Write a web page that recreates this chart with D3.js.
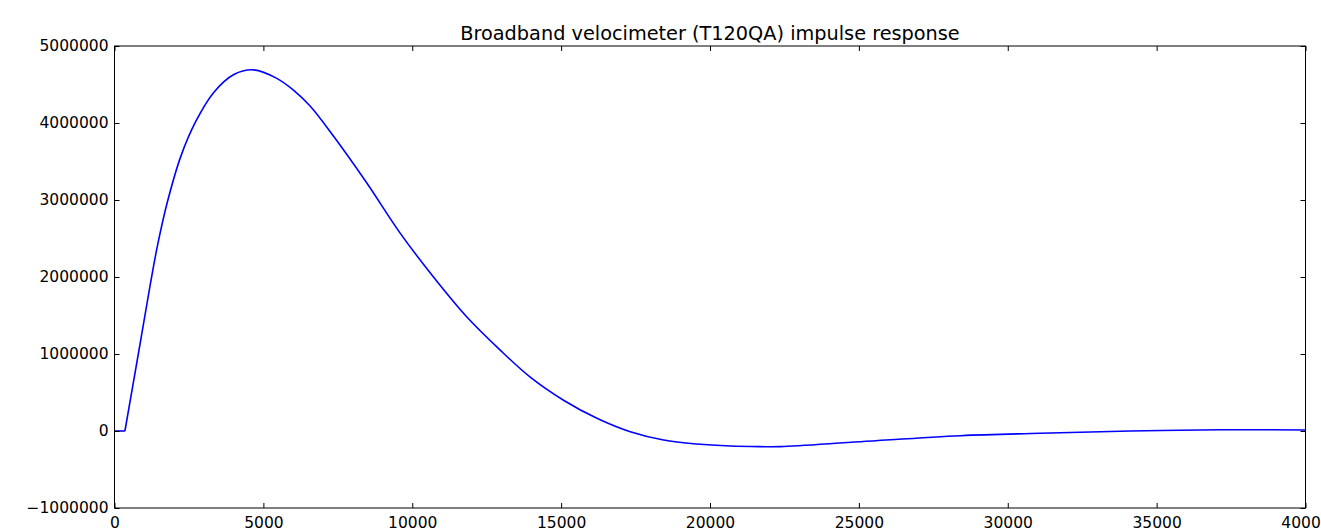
<!DOCTYPE html>
<html>
<head>
<meta charset="utf-8">
<script src="https://cdn.jsdelivr.net/npm/d3@7"></script>
<style>
  body { margin: 0; background: #fff; }
  svg text { font-family: "DejaVu Sans", sans-serif; }
</style>
</head>
<body>
<div id="chart"></div>
<script>
// samples (flat lead-in, then the response)
var leadIndex = [0, 350];
var leadAmplitude = [0, 0];
var sampleIndex = [350, 800, 1200, 1450, 1780, 2230, 2730, 3340, 4010, 4664, 5450, 6000, 6569, 7352, 8474, 9593, 10713, 11835, 12954, 13962, 15081, 16203, 17322, 18441, 19563, 20682, 21690, 22362, 25050, 28410, 31099, 34123, 37147, 40000];
var amplitude = [0, 1000000, 1900000, 2420000, 2980000, 3570000, 4020000, 4400000, 4630000, 4690000, 4580000, 4430000, 4220000, 3830000, 3220000, 2570000, 2000000, 1480000, 1050000, 700000, 400000, 165000, -10000, -117000, -169000, -195000, -203000, -203000, -139000, -61000, -30000, 0, 17000, 13000];
var xTicks = [0, 5000, 10000, 15000, 20000, 25000, 30000, 35000, 40000];
var yTicks = [-1000000, 0, 1000000, 2000000, 3000000, 4000000, 5000000];
var title = "Broadband velocimeter (T120QA) impulse response";

var width = 1321, height = 531;
var margin = {top: 46, right: 15.5, bottom: 23, left: 114.5};

var svg = d3.select("#chart").append("svg")
    .attr("width", width)
    .attr("height", height);

var x = d3.scaleLinear().domain([0, 40000]).range([margin.left, width - margin.right]);
var y = d3.scaleLinear().domain([-1000000, 5000000]).range([height - margin.bottom, margin.top]);

var fmt = function(d) { return d < 0 ? "\u2212" + Math.abs(d) : String(d); };
var noLabel = function() { return ""; };

// data line
var lead = leadIndex.map(function(t, i) { return [t, leadAmplitude[i]]; });
var pts = sampleIndex.map(function(t, i) { return [t, amplitude[i]]; });

var straight = d3.line()
    .x(function(d) { return x(d[0]); })
    .y(function(d) { return y(d[1]); });
var smooth = d3.line()
    .x(function(d) { return x(d[0]); })
    .y(function(d) { return y(d[1]); })
    .curve(d3.curveCatmullRom.alpha(0.5));

svg.append("path")
    .datum(lead)
    .attr("fill", "none")
    .attr("stroke", "#0000ff")
    .attr("stroke-width", 1.6)
    .attr("d", straight);

svg.append("path")
    .datum(pts)
    .attr("fill", "none")
    .attr("stroke", "#0000ff")
    .attr("stroke-width", 1.6)
    .attr("d", smooth);

// axes, ticks inward on all sides
var axBottom = d3.axisBottom(x).tickValues(xTicks).tickSizeInner(-5).tickSizeOuter(0).tickPadding(9).tickFormat(fmt);
var axTop = d3.axisTop(x).tickValues(xTicks).tickSizeInner(-5).tickSizeOuter(0).tickFormat(noLabel);
var axLeft = d3.axisLeft(y).tickValues(yTicks).tickSizeInner(-5).tickSizeOuter(0).tickPadding(6).tickFormat(fmt);
var axRight = d3.axisRight(y).tickValues(yTicks).tickSizeInner(-5).tickSizeOuter(0).tickFormat(noLabel);

function styleAxis(g) {
    g.select(".domain").remove();
    g.selectAll(".tick line").attr("stroke", "#000");
    g.selectAll("text").attr("font-size", "15.5px").attr("fill", "#000")
        .attr("font-family", "DejaVu Sans, sans-serif");
}

svg.append("g").attr("transform", "translate(0," + y.range()[0] + ")").call(axBottom).call(styleAxis);
svg.append("g").attr("transform", "translate(0," + y.range()[1] + ")").call(axTop).call(styleAxis);
svg.append("g").attr("transform", "translate(" + x.range()[0] + ",0)").call(axLeft).call(styleAxis);
svg.append("g").attr("transform", "translate(" + x.range()[1] + ",0)").call(axRight).call(styleAxis);

// frame
svg.append("rect")
    .attr("x", x.range()[0])
    .attr("y", y.range()[1])
    .attr("width", x.range()[1] - x.range()[0])
    .attr("height", y.range()[0] - y.range()[1])
    .attr("fill", "none")
    .attr("stroke", "#000")
    .attr("stroke-width", 1);

svg.append("text")
    .attr("x", (x.range()[0] + x.range()[1]) / 2)
    .attr("y", 40)
    .attr("text-anchor", "middle")
    .attr("font-size", "19.3px")
    .attr("fill", "#000")
    .text(title);
</script>
</body>
</html>
